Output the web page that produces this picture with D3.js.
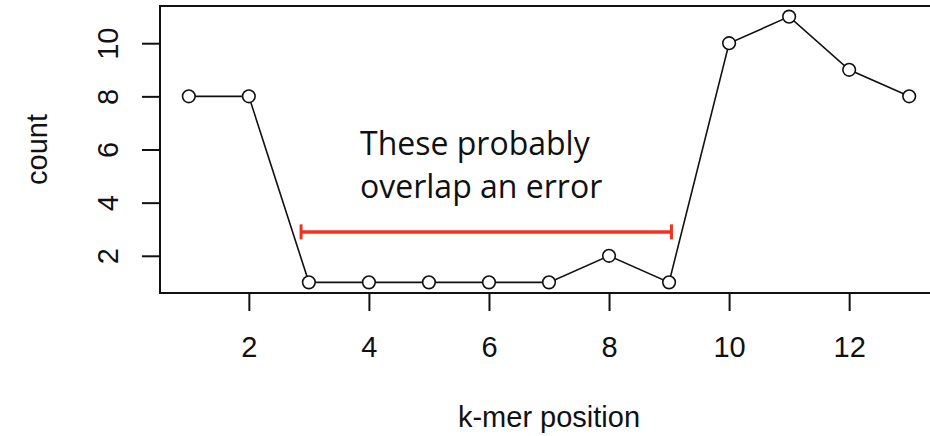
<!DOCTYPE html>
<html>
<head>
<meta charset="utf-8">
<script src="https://cdn.jsdelivr.net/npm/d3@7"></script>
<style>
  body { margin: 0; background: white; }
  svg { display: block; }
</style>
</head>
<body>
<script>
// k-mer counts along the read
var positions = [1, 2, 3, 4, 5, 6, 7, 8, 9, 10, 11, 12, 13];
var counts = [8, 8, 1, 1, 1, 1, 1, 2, 1, 10, 11, 9, 8];
var xTicks = [2, 4, 6, 8, 10, 12];
var yTicks = [2, 4, 6, 8, 10];
var noteLines = ["These probably", "overlap an error"];
var bracketX = [2.87, 9.04];
var bracketY = 2.9;

var width = 930;
var height = 436;

var svg = d3.select("body")
            .append("svg")
            .attr("width", width)
            .attr("height", height);

// R style: axis range padded 4% past the data
var xPad = (d3.max(positions) - d3.min(positions)) * 0.04;
var yPad = (d3.max(counts) - d3.min(counts)) * 0.04;

var x = d3.scaleLinear()
          .domain([d3.min(positions) - xPad, d3.max(positions) + xPad])
          .range([160, 938]);

var y = d3.scaleLinear()
          .domain([d3.min(counts) - yPad, d3.max(counts) + yPad])
          .range([293, 6]);

var line = d3.line()
             .x(function(d, i) { return x(positions[i]); })
             .y(function(d) { return y(d); });

svg.append("path")
   .datum(counts)
   .attr("d", line)
   .attr("fill", "none")
   .attr("stroke", "#111")
   .attr("stroke-width", 1.6);

svg.selectAll("circle.pt")
   .data(counts)
   .enter()
   .append("circle")
   .attr("class", "pt")
   .attr("cx", function(d, i) { return x(positions[i]); })
   .attr("cy", function(d) { return y(d); })
   .attr("r", 6.3)
   .attr("fill", "white")
   .attr("stroke", "#111")
   .attr("stroke-width", 1.6);

// plot box
svg.append("rect")
   .attr("x", x.range()[0])
   .attr("y", y.range()[1])
   .attr("width", x.range()[1] - x.range()[0])
   .attr("height", y.range()[0] - y.range()[1])
   .attr("fill", "none")
   .attr("stroke", "#111")
   .attr("stroke-width", 2);

var xAxis = svg.append("g")
               .attr("transform", "translate(0," + y.range()[0] + ")")
               .call(d3.axisBottom(x).tickValues(xTicks).tickSize(18).tickPadding(25).tickFormat(d3.format("d")));

var yAxis = svg.append("g")
               .attr("transform", "translate(" + x.range()[0] + ",0)")
               .call(d3.axisLeft(y).tickValues(yTicks).tickSize(18).tickFormat(d3.format("d")));

svg.selectAll(".domain").remove();

svg.selectAll(".tick line")
   .attr("stroke", "#111")
   .attr("stroke-width", 2);

svg.selectAll(".tick text")
   .attr("fill", "#111")
   .style("font-family", "'Liberation Sans', Arial, sans-serif")
   .style("font-size", "29px");

yAxis.selectAll(".tick text")
     .attr("transform", "rotate(-90)")
     .attr("x", 0)
     .attr("y", -42)
     .attr("dy", 0)
     .attr("text-anchor", "middle");

// axis titles
svg.append("text")
   .text("k-mer position")
   .attr("x", 549)
   .attr("y", 427)
   .attr("text-anchor", "middle")
   .attr("fill", "#111")
   .style("font-family", "'Liberation Sans', Arial, sans-serif")
   .style("font-size", "29px");

svg.append("text")
   .text("count")
   .attr("transform", "translate(47," + ((y.range()[0] + y.range()[1]) / 2) + ") rotate(-90)")
   .attr("text-anchor", "middle")
   .attr("fill", "#111")
   .style("font-family", "'Liberation Sans', Arial, sans-serif")
   .style("font-size", "29px");

// annotation
svg.selectAll("text.note")
   .data(noteLines)
   .enter()
   .append("text")
   .attr("class", "note")
   .text(function(d) { return d; })
   .attr("x", 360)
   .attr("y", function(d, i) { return 155 + i * 43; })
   .attr("fill", "#111")
   .style("font-family", "'Open Sans', sans-serif")
   .style("font-size", "32px");

var red = "#f5301c";

svg.append("line")
   .attr("x1", x(bracketX[0]))
   .attr("x2", x(bracketX[1]))
   .attr("y1", y(bracketY))
   .attr("y2", y(bracketY))
   .attr("stroke", red)
   .attr("stroke-width", 3.5);

svg.selectAll("line.cap")
   .data(bracketX)
   .enter()
   .append("line")
   .attr("class", "cap")
   .attr("x1", function(d) { return x(d); })
   .attr("x2", function(d) { return x(d); })
   .attr("y1", y(bracketY) - 7.5)
   .attr("y2", y(bracketY) + 7.5)
   .attr("stroke", red)
   .attr("stroke-width", 3);
</script>
</body>
</html>
